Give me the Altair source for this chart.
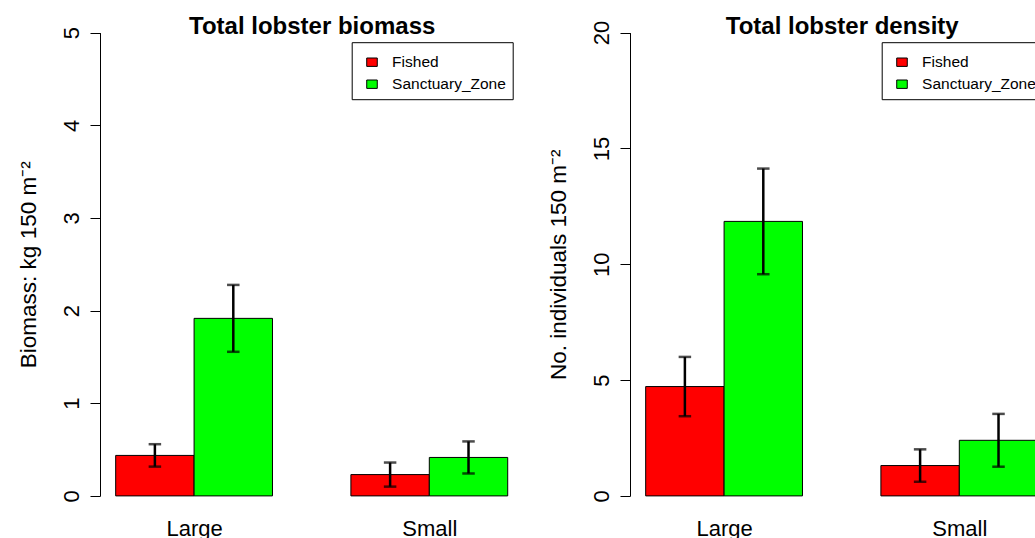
import altair as alt
import pandas as pd

# Categories
sizes = ["Large", "Small"]
zones = ["Fished", "Sanctuary_Zone"]
zone_colors = ["#FF0000", "#00FF00"]

# Means and standard errors, ordered:
# Large/Fished, Large/Sanctuary_Zone, Small/Fished, Small/Sanctuary_Zone
biomass_mean = [0.437, 1.916, 0.230, 0.415]
biomass_se = [0.121, 0.361, 0.130, 0.173]
density_mean = [4.72, 11.85, 1.31, 2.40]
density_se = [1.28, 2.28, 0.70, 1.14]

biomass_ticks = [0, 1, 2, 3, 4, 5]
density_ticks = [0, 5, 10, 15, 20]

FONT = "Liberation Sans"
W, H = 1035, 538
Y_RANGE = [495.9, 32.6]          # pixel rows of the y domain ends
PLOT_BOTTOM = 514.4              # lower edge of each plotting region
X_DOMAIN = [0.8, 6.2]            # barplot(beside=TRUE) coordinate span


def table(means, ses):
    """Bar positions follow base-R barplot(beside=TRUE, space=c(0, 1))."""
    rows, k = [], 0
    for gi, s in enumerate(sizes):
        for zi, z in enumerate(zones):
            left = 1 + gi * (len(zones) + 1) + zi
            rows.append(dict(size=s, zone=z, mean=means[k],
                             lo=means[k] - ses[k], hi=means[k] + ses[k],
                             x0=left, x1=left + 1, xc=left + 0.5))
            k += 1
    return pd.DataFrame(rows)


group_centers = [1 + gi * (len(zones) + 1) + len(zones) / 2 for gi in range(len(sizes))]
label_expr = " : ".join(
    f"datum.value == {c} ? '{s}'" for c, s in zip(group_centers[:-1], sizes[:-1])
) + f" : '{sizes[-1]}'"


def panel(df, ymax, ticks, ytitle, title, x_range, legend_x):
    xs = alt.Scale(domain=X_DOMAIN, range=x_range, nice=False, zero=False)
    ys = alt.Scale(domain=[0, ymax], range=Y_RANGE, nice=False, zero=False)
    base = alt.Chart(df)

    bars = base.mark_bar(stroke="black", strokeWidth=1).encode(
        x=alt.X("x0:Q", scale=xs, axis=alt.Axis(
            orient="bottom", values=group_centers, labelExpr=label_expr,
            offset=-(H - PLOT_BOTTOM), domain=False, ticks=False, tickSize=0,
            grid=False, labelFontSize=22, labelPadding=21,
            labelBaseline="alphabetic", labelOverlap=False, labelFlush=False,
            title=None)),
        x2="x1:Q",
        y=alt.Y("mean:Q", scale=ys, axis=alt.Axis(
            orient="left", offset=-x_range[0], values=ticks, format="d",
            grid=False, tickSize=10, labelPadding=11.7, labelAngle=270,
            labelAlign="center", labelBaseline="alphabetic", labelFontSize=22,
            labelOverlap=False, labelFlush=False, title=ytitle,
            titleFontSize=22.5, titleFontWeight="normal", titleAngle=270,
            titleBaseline="alphabetic", titleX=-64.5)),
        y2=alt.datum(0),
        color=alt.Color("zone:N", scale=alt.Scale(domain=zones, range=zone_colors),
                        legend=alt.Legend(
                            orient="none", legendX=legend_x, legendY=42.2,
                            title=None, strokeColor="black", fillColor="white",
                            padding=6.5,
                            symbolType="M-0.406,-0.323H0.406V0.323H-0.406Z",
                            symbolSize=676, symbolStrokeColor="black",
                            symbolStrokeWidth=1, symbolOffset=0.3,
                            labelOffset=6.6, labelFontSize=15.5,
                            rowPadding=-3.4)),
    )

    # vertical error lines; their top axis carries the panel title
    err = base.mark_rule(color="black", strokeWidth=2.5).encode(
        x=alt.X("xc:Q", scale=xs, axis=alt.Axis(
            orient="top", domain=False, ticks=False, labels=False, grid=False,
            title=title, titleFontSize=24, titleFontWeight="bold",
            titleY=33, titleBaseline="alphabetic")),
        y=alt.Y("lo:Q", scale=ys),
        y2="hi:Q",
    )

    caps = base.transform_fold(["lo", "hi"], as_=["end", "val"]).mark_tick(
        orient="horizontal", color="black", thickness=2.5, size=12.5
    ).encode(
        x=alt.X("xc:Q", scale=xs, axis=None),
        y=alt.Y("val:Q", scale=ys),
    )

    return alt.layer(bars, err, caps).resolve_scale(x="independent")


left = panel(table(biomass_mean, biomass_se), 5, biomass_ticks,
             "Biomass: kg 150 m\u207B\u00B2", "Total lobster biomass",
             [100, 523.4], 351.7)
right = panel(table(density_mean, density_se), 20, density_ticks,
              "No. individuals 150 m\u207B\u00B2", "Total lobster density",
              [630, 1053.4], 881.7)

chart = alt.layer(left, right).resolve_scale(
    x="independent", y="independent", color="independent"
).properties(
    width=W, height=H, padding=0,
    autosize=alt.AutoSizeParams(type="none"),
).configure(font=FONT).configure_view(stroke=None).configure_axis(
    labelFont=FONT, titleFont=FONT, labelColor="black", titleColor="black",
    domainColor="black", tickColor="black", domainWidth=1, tickWidth=1,
).configure_legend(labelFont=FONT, labelColor="black")

chart.save("out.html", embed_options={"renderer": "svg", "actions": False})
